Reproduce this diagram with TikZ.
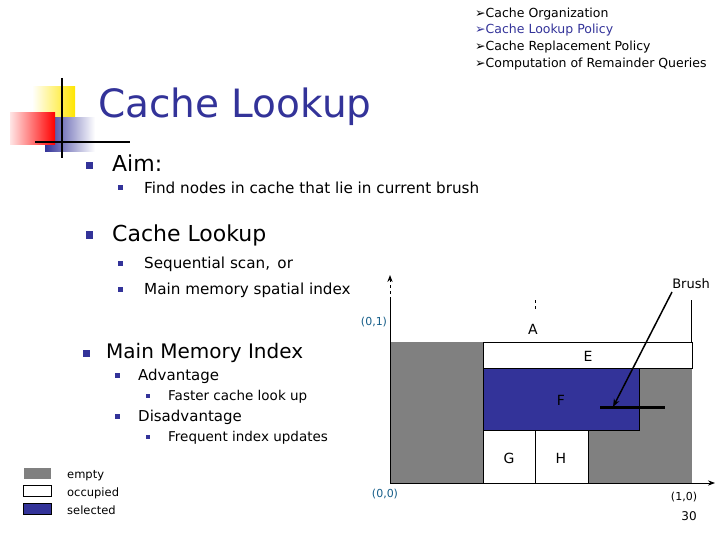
\documentclass[tikz,border=0pt]{standalone}
\usepackage{fontspec}
\setmainfont{DejaVu Sans}
\usetikzlibrary{arrows.meta}
\definecolor{navy}{RGB}{51,51,153}
\definecolor{cellgray}{RGB}{128,128,128}
\begin{document}
\begin{tikzpicture}[x=1pt,y=-1pt]
	\tikzset{txt/.style = {anchor=base west, inner sep=0pt},
		bul/.style = {fill=navy, minimum size=#1, inner sep=0pt},
		cell/.style = {draw=black, line width=0.5pt},
		lbl/.style = {font=\fontsize{14}{16}\selectfont}}
	\useasboundingbox (0,0) rectangle (720,540);
	% logo
	\shade[left color=white, right color=yellow!80!orange] (32,87) rectangle (75,125);
	\shade[left color=navy, right color=white] (45,118) rectangle (95,152);
	\shade[left color=red!10, right color=red] (10,113) rectangle (55,145);
	\draw[line width=1.2pt] (62,78) -- (62,158);
	\draw[line width=1.2pt] (35,142) -- (130,142);
	% outline
	\node[txt, font=\fontsize{12.5}{14}\selectfont] (o1) at (475,18) {➢Cache Organization};
	\node[txt, font=\fontsize{12.5}{14}\selectfont, text=navy] (o2) at (475,34) {➢Cache Lookup Policy};
	\node[txt, font=\fontsize{12.5}{14}\selectfont] (o3) at (475,51) {➢Cache Replacement Policy};
	\node[txt, font=\fontsize{12.5}{14}\selectfont] (o4) at (475,68) {➢Computation of Remainder Queries};
	\node[txt, font=\fontsize{39}{44}\selectfont, text=navy] (title) at (98,118) {Cache Lookup};
	% bullets
	\node[bul=7pt] (b1) at (89,166) {};
	\node[txt, font=\fontsize{22}{26}\selectfont] (aim) at (112,172) {Aim:};
	\node[bul=5pt] (b11) at (120,188) {};
	\node[txt, font=\fontsize{15.2}{18}\selectfont] (find) at (144,194) {Find nodes in cache that lie in current brush};
	\node[bul=7pt] (b2) at (89,235) {};
	\node[txt, font=\fontsize{22}{26}\selectfont] (cl) at (112,241) {Cache Lookup};
	\node[bul=5pt] (b21) at (120,263) {};
	\node[txt, font=\fontsize{15.2}{18}\selectfont] (seq) at (144,268) {Sequential scan,\, or};
	\node[bul=5pt] (b22) at (120,289) {};
	\node[txt, font=\fontsize{15.2}{18}\selectfont] (mm) at (144,294) {Main memory spatial index};
	\node[bul=7pt] (b3) at (86,353) {};
	\node[txt, font=\fontsize{20}{24}\selectfont] (mmi) at (106,358) {Main Memory Index};
	\node[bul=5pt] (b31) at (117,375) {};
	\node[txt, font=\fontsize{15}{18}\selectfont] (adv) at (138,380) {Advantage};
	\node[bul=4pt] (b311) at (148,396) {};
	\node[txt, font=\fontsize{13.5}{16}\selectfont] (fast) at (168,400) {Faster cache look up};
	\node[bul=5pt] (b32) at (117,416) {};
	\node[txt, font=\fontsize{15}{18}\selectfont] (dis) at (138,421) {Disadvantage};
	\node[bul=4pt] (b321) at (148,437) {};
	\node[txt, font=\fontsize{13.5}{16}\selectfont] (freq) at (168,441) {Frequent index updates};
	% legend
	\draw[fill=cellgray, draw=white] (23,467) rectangle (51,479);
	\draw[cell, fill=white] (23,485) rectangle (51,496);
	\draw[cell, fill=navy] (23,503) rectangle (51,514);
	\node[txt, font=\fontsize{11.5}{13}\selectfont] (le) at (67,478) {empty};
	\node[txt, font=\fontsize{11.5}{13}\selectfont] (lo) at (67,496) {occupied};
	\node[txt, font=\fontsize{11.5}{13}\selectfont] (ls) at (67,514) {selected};
	% cells
	\fill[cellgray] (390,342) rectangle (483,483);
	\fill[cellgray] (639,368) rectangle (692,483);
	\fill[cellgray] (588,430) rectangle (639,483);
	\draw[cell, fill=white] (483,342) rectangle (692,368);
	\draw[cell, fill=navy] (483,368) rectangle (639,430);
	\draw[cell, fill=white] (483,430) rectangle (535,483);
	\draw[cell, fill=white] (535,430) rectangle (588,483);
	\node[lbl] (A) at (533,329) {A};
	\node[lbl] (E) at (588,356) {E};
	\node[lbl] (F) at (561,400) {F};
	\node[lbl] (G) at (509,458) {G};
	\node[lbl] (H) at (561,458) {H};
	% axes
	\coordinate (o) at (390,483);
	\coordinate (ytop) at (390,275);
	\coordinate (xend) at (715,483);
	\draw[line width=1pt] (o) -- (390,300);
	\draw[line width=1pt, dashed, -{Stealth[length=7pt]}] (390,300) -- (ytop);
	\draw[line width=1pt] (o) -- (639,483);
	\draw[line width=1pt, -{Stealth[length=7pt]}] (639,483) -- (xend);
	\draw (691,300) -- (691,342);
	\draw[dashed] (535,300) -- (535,312);
	\node[font=\fontsize{11}{13}\selectfont, text=navy!60!cyan!70!black] (p01) at (374,322) {(0,1)};
	\node[font=\fontsize{11}{13}\selectfont, text=navy!60!cyan!70!black] (p00) at (385,494) {(0,0)};
	\node[font=\fontsize{11}{13}\selectfont] (p10) at (684,497) {(1,0)};
	\node[font=\fontsize{12}{14}\selectfont] (pg) at (689,516) {30};
	% brush
	\node[font=\fontsize{13}{15}\selectfont] (brush) at (691,284) {Brush};
	\coordinate (btip) at (613,407);
	\draw[line width=1.5pt, -{Stealth[length=8pt,width=6pt]}] (672,292) -- (btip);
	\draw[line width=3pt] (600,407) -- (665,407);
\end{tikzpicture}
\end{document}
